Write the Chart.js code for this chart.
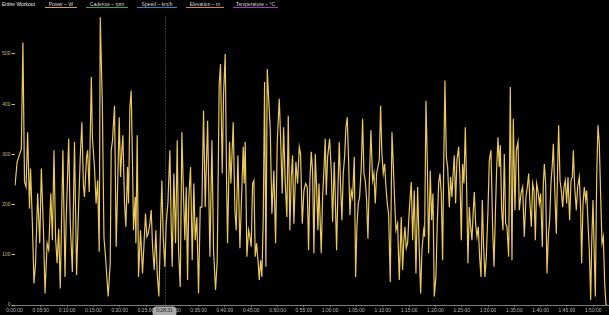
<!DOCTYPE html>
<html><head><meta charset="utf-8">
<script src="https://cdn.jsdelivr.net/npm/chart.js@4.4.1/dist/chart.umd.min.js"></script>
<style>
html,body{margin:0;padding:0;background:#000;}
#wrap{position:relative;width:609px;height:315px;background:#000;overflow:hidden;}
canvas{position:absolute;left:0;top:0;}
.lg{position:absolute;top:1px;font:5px "Liberation Sans",Arial,sans-serif;color:#d8d8d8;white-space:nowrap;line-height:6px;}
.lg.u{border-bottom:1px solid;text-align:center;}
</style></head><body>
<div id="wrap"><canvas id="c" width="609" height="315"></canvas>
<div class="lg" style="left:2px;color:#f0f0f0">Entire Workout</div>
<div class="lg u" style="left:45px;width:32px;border-color:#d9a13a">Power – W</div>
<div class="lg u" style="left:86px;width:42px;border-color:#3ca54a">Cadence – rpm</div>
<div class="lg u" style="left:137px;width:40px;border-color:#3b80c8">Speed – km/h</div>
<div class="lg u" style="left:186px;width:38px;border-color:#d98a30">Elevation – m</div>
<div class="lg u" style="left:233px;width:45px;border-color:#a03cc8">Temperature – °C</div>
</div>
<script>
// elapsed time (minutes) and power (W)
const minutesA=[0.1,0.5,1.3,1.6,1.9,2.2,2.5,2.85,3.05,3.4,3.7,4.0,4.4,4.8,5.1,5.5,5.8,6.2,6.5,6.9,7.2,7.5,7.8,8.1,8.4,8.7,9.2,9.6,9.8,10.3,10.6,11.0,11.4,11.8,12.2,12.5,12.8,13.1,13.3,13.7,13.9,14.2,14.6,14.8,15.2,15.5,15.8,16.1,16.3,16.7,17.0,17.3,17.8];
const wattsA=[238,285,311,523,245,235,344,192,272,162,43,83,222,123,272,149,23,123,110,222,129,308,135,83,152,33,308,56,162,331,162,66,325,60,202,295,364,238,215,295,308,225,454,334,275,202,248,106,573,397,135,96,17];
const minutesB=[18.19,18.38,18.63,19.01,19.33,19.64,19.90,20.15,20.40,20.60,20.91,21.17,21.48,21.67,21.93,22.18,22.43,22.62,22.94,23.07,23.32,23.57,23.95,24.33,24.65,24.90,25.16,25.41,25.73,25.98,26.24,26.55,26.87,27.12,27.44,27.76,28.01,28.26,28.58,28.83,29.15,29.53,29.78,29.97,30.29,30.61,30.93,31.18,31.50,31.81,32.13,32.38,32.64,32.89,33.14,33.46,33.78,34.09,34.35,34.66,34.98,35.30,35.61,35.93,36.25,36.7];
const wattsB=[83,308,328,397,116,255,374,255,308,338,202,156,275,202,394,427,281,149,215,123,338,56,149,63,129,182,136,142,162,189,116,70,149,63,17,156,248,136,76,162,202,308,162,76,262,123,328,109,36,344,215,129,235,50,215,275,89,242,129,175,23,195,195,387,195,367];
const minutesC=[37.14,37.52,37.83,38.21,38.53,38.91,39.16,39.48,39.73,40.05,40.30,40.49,40.87,41.13,41.57,41.89,42.14,42.46,42.84,43.16,43.47,43.66,43.85,44.17,44.49,44.74,44.99,45.25,45.50,45.75,46.01,46.32,46.51,46.77,47.02,47.28,47.53,47.78,48.04,48.29,48.61,48.92,49.30,49.62,49.94,50.32,50.57,50.89,51.14,51.46,51.77,52.03,52.34,52.60,52.85,53.10,53.48,53.80,54.12,54.37,54.69,55.01,55.32];
const wattsC=[96,328,109,30,89,440,480,262,420,500,255,123,325,242,364,189,149,298,113,215,315,242,325,96,149,136,116,242,248,96,123,83,50,89,56,175,444,76,470,414,348,182,268,123,325,411,334,222,354,242,175,377,149,255,298,162,285,242,315,301,162,228,242];
const minutesD=[55.64,55.89,56.15,56.40,56.65,56.91,57.16,57.41,57.67,57.86,58.11,58.30,58.56,58.81,59.06,59.25,59.51,59.89,60.20,60.46,60.77,60.96,61.22,61.47,61.72,61.98,62.23,62.48,62.74,62.99,63.24,63.50,63.75,64.00,64.26,64.58,64.83,65.08,65.34,65.59,65.91,66.16,66.41,66.67,66.92,67.17,67.43,67.74,68.06,68.31,68.57,68.82,69.07,69.33,69.58,69.83,70.09,70.34,70.60,70.85,71.10,71.42,71.74,71.99,72.24,72.50,72.81,73.13,73.51];
const wattsD=[235,109,248,305,268,103,301,235,149,242,162,103,215,268,331,219,295,331,268,166,285,215,109,228,325,235,169,262,295,354,374,288,179,228,215,295,56,156,202,215,275,371,262,248,209,132,242,348,248,262,202,262,275,288,397,301,262,281,235,202,182,46,344,281,209,149,162,50,175];
const minutesE=[73.76,74.0,74.21,74.46,74.71,75.03,75.41,75.67,75.98,76.30,76.62,76.93,77.19,77.44,77.76,77.95,78.20,78.45,78.71,79.02,79.28,79.53,79.78,80.10,80.35,80.61,80.86,81.11,81.37,81.56,81.81,82.07,82.32,82.64,82.89,83.14,83.40,83.59,83.84,84.09,84.41,84.66,84.92,85.17,85.42,85.68,85.93,86.18,86.44,86.69,86.94,87.20,87.39,87.64,87.90,88.15,88.40,88.66,88.91,89.16,89.42,89.67,89.99,90.24,90.56,90.87,91.13,91.38,91.63,91.89,92.14,92.33];
const wattsE=[70,129,156,113,123,189,245,129,228,63,235,109,23,109,149,136,407,288,103,268,169,222,17,56,162,242,262,222,89,268,447,295,275,195,255,215,268,298,202,288,315,255,129,281,242,354,235,83,195,156,129,189,225,162,136,156,96,56,209,116,56,96,189,288,308,156,76,175,268,334,275,318];
const minutesF=[92.59,92.84,93.09,93.35,93.60,93.92,94.23,94.55,94.80,95.12,95.37,95.69,95.94,96.26,96.58,96.89,97.21,97.47,97.72,97.97,98.23,98.48,98.73,98.99,99.24,99.49,99.75,100.00,100.32,100.51,100.70,100.95,101.20,101.46,101.71,101.96,102.22,102.41,102.66,102.98,103.23,103.42,103.68,103.93,104.18,104.44,104.69,104.94,105.20,105.51,105.77,106.02,106.21,106.46,106.78,107.03,107.35,107.60,107.79,108.05,108.30,108.56,108.75,109.00,109.25,109.51,109.70,109.95,110.14,110.39,110.65,110.90,111.15,111.41,111.66,111.91,112.17,112.42,112.67];
const wattsF=[189,149,301,162,156,96,434,89,371,189,308,325,189,222,235,136,215,235,262,202,156,242,228,129,242,228,202,222,116,242,281,242,63,136,169,242,281,321,235,142,275,358,248,228,195,235,248,202,255,169,248,255,308,235,189,235,255,189,83,202,235,209,228,162,109,10,123,209,123,17,255,358,321,215,123,136,43,0,0];

const powerTicks=[0,100,200,300,400,500];
const timeTicksMin=[0,5,10,15,20,25,30,35,40,45,50,55,60,65,70,75,80,85,90,95,100,105,110];
const cursorSeconds=1711; // 0:28:31

const minutes=[].concat(minutesA,minutesB,minutesC,minutesD,minutesE,minutesF);
const watts=[].concat(wattsA,wattsB,wattsC,wattsD,wattsE,wattsF);
const points=minutes.map((m,i)=>({x:m,y:watts[i]}));

function fmt(totalSec){
  totalSec=Math.round(totalSec);
  const h=Math.floor(totalSec/3600), m=Math.floor((totalSec%3600)/60), s=totalSec%60;
  return h+':'+String(m).padStart(2,'0')+':'+String(s).padStart(2,'0');
}

const FONT='"Liberation Sans", Arial, sans-serif';

const cursorPlugin={
  id:'cursor',
  beforeDatasetsDraw(chart){
    const {ctx,chartArea,scales:{x}}=chart;
    const px=Math.round(x.getPixelForValue(cursorSeconds/60))+0.5;
    ctx.save();
    ctx.strokeStyle='#3a3a3a';ctx.lineWidth=1;ctx.setLineDash([2,1]);
    ctx.beginPath();ctx.moveTo(px,chartArea.top+7);ctx.lineTo(px,chartArea.bottom);ctx.stroke();
    ctx.restore();
  },
  afterDraw(chart){
    const {ctx,chartArea,scales:{x}}=chart;
    const px=x.getPixelForValue(cursorSeconds/60);
    const w=24,h=10,top=chartArea.bottom+1.5;
    ctx.save();
    ctx.fillStyle='#a9a9a9';
    ctx.beginPath();
    if(ctx.roundRect){ctx.roundRect(px-w/2,top,w,h,4);}else{ctx.rect(px-w/2,top,w,h);}
    ctx.fill();
    ctx.fillStyle='#1e1e1e';ctx.font='5px '+FONT;ctx.textAlign='center';ctx.textBaseline='middle';
    ctx.fillText(fmt(cursorSeconds),px,top+4.5);
    ctx.restore();
  }
};

new Chart(document.getElementById('c'),{
  type:'line',
  data:{datasets:[{label:'Power',data:points,borderColor:'#ebc95a',borderWidth:1.2,pointRadius:0,tension:0,fill:false}]},
  options:{
    responsive:false,animation:false,devicePixelRatio:1,
    layout:{padding:{top:8.8,right:1,bottom:0,left:0}},
    plugins:{legend:{display:false},tooltip:{enabled:false}},
    scales:{
      x:{type:'linear',min:0,max:112.8,
        afterBuildTicks(s){s.ticks=timeTicksMin.map(v=>({value:v}));},
        ticks:{autoSkip:false,maxRotation:0,minRotation:0,color:'#b5b5b5',font:{size:5,family:FONT},padding:1,callback:v=>fmt(v*60)},
        grid:{drawOnChartArea:false,drawTicks:true,tickLength:2,color:'#6a6a6a'},
        border:{display:true,color:'#7a7a7a',width:1},
        afterFit(s){s.height=10;}
      },
      y:{min:0,max:590,
        afterBuildTicks(s){s.ticks=powerTicks.map(v=>({value:v}));},
        ticks:{color:'#cdb56a',font:{size:5,family:FONT},padding:1},
        grid:{drawOnChartArea:false,drawTicks:true,tickLength:3,color:'#cdb56a'},
        border:{display:false},
        afterFit(s){s.width=14.5;}
      }
    }
  },
  plugins:[cursorPlugin]
});
</script>
</body></html>
